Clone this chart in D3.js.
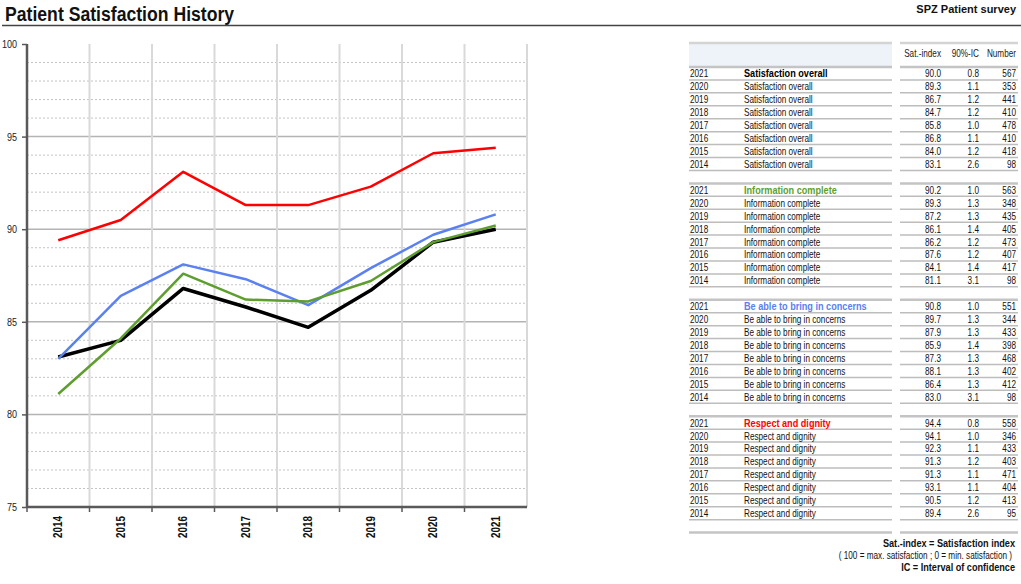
<!DOCTYPE html>
<html>
<head>
<meta charset="utf-8">
<script src="https://cdn.jsdelivr.net/npm/d3@7"></script>
<style>
  body { margin: 0; background: #fff; }
  svg { display: block; }
  text { font-family: "Liberation Sans", Arial, sans-serif; }
</style>
</head>
<body>
<svg id="chart" width="1021" height="584"></svg>
<script>
const years = [2014, 2015, 2016, 2017, 2018, 2019, 2020, 2021];
const seriesNames = ["Satisfaction overall", "Information complete", "Be able to bring in concerns", "Respect and dignity"];
const seriesColors = ["#000000", "#5e9e2e", "#5a80f2", "#ff0000"];

const satOverall  = [83.1, 84.0, 86.8, 85.8, 84.7, 86.7, 89.3, 90.0];
const ciOverall   = [2.6, 1.2, 1.1, 1.0, 1.2, 1.2, 1.1, 0.8];
const nOverall    = [98, 418, 410, 478, 410, 441, 353, 567];

const satInfo     = [81.1, 84.1, 87.6, 86.2, 86.1, 87.2, 89.3, 90.2];
const ciInfo      = [3.1, 1.4, 1.2, 1.2, 1.4, 1.3, 1.3, 1.0];
const nInfo       = [98, 417, 407, 473, 405, 435, 348, 563];

const satConcerns = [83.0, 86.4, 88.1, 87.3, 85.9, 87.9, 89.7, 90.8];
const ciConcerns  = [3.1, 1.3, 1.3, 1.3, 1.4, 1.3, 1.3, 1.0];
const nConcerns   = [98, 412, 402, 468, 398, 433, 344, 551];

const satRespect  = [89.4, 90.5, 93.1, 91.3, 91.3, 92.3, 94.1, 94.4];
const ciRespect   = [2.6, 1.2, 1.1, 1.1, 1.2, 1.1, 1.0, 0.8];
const nRespect    = [95, 413, 404, 471, 403, 433, 346, 558];

const yTicks = [75, 80, 85, 90, 95, 100];
const tableHeaders = ["Sat.-index", "90%-IC", "Number"];

const groups = [
  { name: seriesNames[0], color: seriesColors[0], sat: satOverall, ci: ciOverall, n: nOverall },
  { name: seriesNames[1], color: seriesColors[1], sat: satInfo, ci: ciInfo, n: nInfo },
  { name: seriesNames[2], color: seriesColors[2], sat: satConcerns, ci: ciConcerns, n: nConcerns },
  { name: seriesNames[3], color: seriesColors[3], sat: satRespect, ci: ciRespect, n: nRespect }
];

const svg = d3.select("#chart");

// the original uses a narrow face; squeeze Arial metrics horizontally
const NARROW = 0.78, NARROW_B = 0.87;
function place(x, y, sx) { return `translate(${x},${y}) scale(${sx},1)`; }

// title + header rule
svg.append("text").attr("transform", place(5, 21, 0.86))
  .attr("font-size", 20.5).attr("font-weight", "bold").attr("fill", "#111")
  .text("Patient Satisfaction History");
svg.append("text").attr("x", 1016).attr("y", 13)
  .attr("text-anchor", "end").attr("font-size", 11).attr("font-weight", "bold").attr("fill", "#111")
  .text("SPZ Patient survey");
svg.append("line").attr("x1", 2).attr("x2", 1021).attr("y1", 25.5).attr("y2", 25.5)
  .attr("stroke", "#444").attr("stroke-width", 1.5);

// ---- chart ----
const plot = { left: 27, right: 527, top: 44, bottom: 507 };

const x = d3.scaleBand().domain(years).range([plot.left, plot.right]);
const y = d3.scaleLinear().domain([75, 100]).range([plot.bottom, plot.top]);

const minor = d3.range(76, 100).filter(v => v % 5 !== 0);
svg.append("g").selectAll("line").data(minor).enter().append("line")
  .attr("x1", plot.left).attr("x2", plot.right)
  .attr("y1", d => y(d)).attr("y2", d => y(d))
  .attr("stroke", "#c4c4c4").attr("stroke-width", 1).attr("stroke-dasharray", "2,2");

svg.append("g").selectAll("line").data(yTicks.filter(v => v > 75 && v < 100)).enter().append("line")
  .attr("x1", plot.left).attr("x2", plot.right)
  .attr("y1", d => y(d)).attr("y2", d => y(d))
  .attr("stroke", "#b4b4b4").attr("stroke-width", 1.5);

// vertical grid at band edges
svg.append("g").selectAll("line").data(years.slice(1).concat(["end"])).enter().append("line")
  .attr("x1", d => d === "end" ? plot.right : x(d))
  .attr("x2", d => d === "end" ? plot.right : x(d))
  .attr("y1", plot.top).attr("y2", plot.bottom)
  .attr("stroke", "#d9d9d9").attr("stroke-width", 2);

// y axis
const yAxis = svg.append("g").attr("transform", `translate(${plot.left},0)`)
  .call(d3.axisLeft(y).tickValues(yTicks).tickSize(5).tickPadding(5).tickFormat(d3.format("d")));
yAxis.select(".domain").attr("stroke", "#595959").attr("stroke-width", 2.5).attr("d", `M0,${plot.top}V${plot.bottom}`);
yAxis.selectAll(".tick line").attr("stroke", "#595959").attr("stroke-width", 1.5);
yAxis.selectAll(".tick text")
  .attr("transform", function() { return place(+d3.select(this).attr("x"), 0, 0.82); })
  .attr("x", 0)
  .attr("font-size", 11).attr("fill", "#222")
  .style("font-family", '"Liberation Sans", Arial, sans-serif');

// x axis: ticks at band edges, labels rotated
const xg = svg.append("g");
xg.append("line").attr("x1", plot.left).attr("x2", plot.right)
  .attr("y1", plot.bottom).attr("y2", plot.bottom)
  .attr("stroke", "#595959").attr("stroke-width", 2.5);
xg.selectAll(".xt").data(years).enter().append("line").attr("class", "xt")
  .attr("x1", d => x(d)).attr("x2", d => x(d))
  .attr("y1", plot.bottom).attr("y2", plot.bottom + 5)
  .attr("stroke", "#595959").attr("stroke-width", 1.5);
xg.selectAll(".xl").data(years).enter().append("text").attr("class", "xl")
  .attr("transform", d => `translate(${x(d) + x.bandwidth() / 2 + 4},516) rotate(-90) scale(0.82,1)`)
  .attr("text-anchor", "end").attr("font-size", 12).attr("font-weight", "bold").attr("fill", "#111")
  .text(d => d);

// lines
const line = d3.line().x((d, i) => x(years[i]) + x.bandwidth() / 2).y(d => y(d));
const drawOrder = [3, 0, 2, 1];
svg.append("g").selectAll("path").data(drawOrder.map(i => groups[i])).enter().append("path")
  .attr("d", d => line(d.sat))
  .attr("fill", "none")
  .attr("stroke", d => d.color)
  .attr("stroke-width", d => d.color === "#000000" ? 3.5 : 2.5)
  .attr("stroke-linejoin", "round");

// ---- table ----
const tbl = { lx1: 689, lx2: 892, rx1: 900, rx2: 1018, yearX: 690, labelX: 744,
              satX: 941, ciX: 979, nX: 1016, top0: 67, groupH: 116.4, rowH: 12.93 };
const FS = 10.5;

svg.append("rect").attr("x", tbl.lx1).attr("y", 43).attr("width", tbl.lx2 - tbl.lx1).attr("height", tbl.top0 - 43)
  .attr("fill", "#eef2f9");
[[tbl.lx1, tbl.lx2], [tbl.rx1, tbl.rx2]].forEach(([a, b]) => {
  svg.append("line").attr("x1", a).attr("x2", b).attr("y1", 43).attr("y2", 43)
    .attr("stroke", "#d4d4d4").attr("stroke-width", 2.5);
});
svg.append("g").selectAll("text").data(tableHeaders).enter().append("text")
  .attr("transform", (d, i) => place([tbl.satX, tbl.ciX, tbl.nX][i], 57, NARROW))
  .attr("text-anchor", "end").attr("font-size", FS).attr("fill", "#222")
  .text(d => d);

// group borders (incl. closing line)
const borders = d3.range(groups.length + 1).map(g => tbl.top0 + g * tbl.groupH);
borders.forEach(by => {
  [[tbl.lx1, tbl.lx2], [tbl.rx1, tbl.rx2]].forEach(([a, b]) => {
    svg.append("line").attr("x1", a).attr("x2", b).attr("y1", by).attr("y2", by)
      .attr("stroke", "#c4c4c4").attr("stroke-width", 2.5);
  });
});

groups.forEach((grp, g) => {
  const rows = years.map((yr, i) => ({ yr, sat: grp.sat[i], ci: grp.ci[i], n: grp.n[i] })).reverse();
  const top = tbl.top0 + g * tbl.groupH;
  const r = svg.append("g").selectAll("g").data(rows).enter().append("g")
    .attr("transform", (d, i) => `translate(0,${top + tbl.rowH * (i + 1)})`);
  r.each(function() {
    const sel = d3.select(this);
    [[tbl.lx1, tbl.lx2], [tbl.rx1, tbl.rx2]].forEach(([a, b]) => {
      sel.append("line").attr("x1", a).attr("x2", b).attr("y1", 0).attr("y2", 0)
        .attr("stroke", "#bdbdbd").attr("stroke-width", 1.5);
    });
  });
  const cell = (xPos, anchor) => r.append("text")
    .attr("transform", place(xPos, -2.5, NARROW))
    .attr("text-anchor", anchor).attr("font-size", FS).attr("fill", "#111");
  cell(tbl.yearX, "start").text(d => d.yr);
  cell(tbl.satX, "end").text(d => d.sat.toFixed(1));
  cell(tbl.ciX, "end").text(d => d.ci.toFixed(1));
  cell(tbl.nX, "end").text(d => d.n);
  r.append("text")
    .attr("transform", (d, i) => place(tbl.labelX, -2.5, i === 0 ? NARROW_B : NARROW))
    .attr("font-size", FS)
    .attr("font-weight", (d, i) => i === 0 ? "bold" : "normal")
    .attr("fill", (d, i) => i === 0 ? (g === 0 ? "#000" : grp.color) : "#111")
    .text(grp.name);
});

// footnotes
const notes = [
  { t: "Sat.-index = Satisfaction index", y: 547, b: true },
  { t: "( 100 = max. satisfaction ; 0 = min. satisfaction )", y: 559, b: false },
  { t: "IC = Interval of confidence", y: 571, b: true }
];
svg.append("g").selectAll("text").data(notes).enter().append("text")
  .attr("transform", d => place(d.b ? 1015 : 1012, d.y, d.b ? NARROW_B : NARROW))
  .attr("text-anchor", "end")
  .attr("font-size", FS).attr("font-weight", d => d.b ? "bold" : "normal").attr("fill", "#111")
  .text(d => d.t);
</script>
</body>
</html>
